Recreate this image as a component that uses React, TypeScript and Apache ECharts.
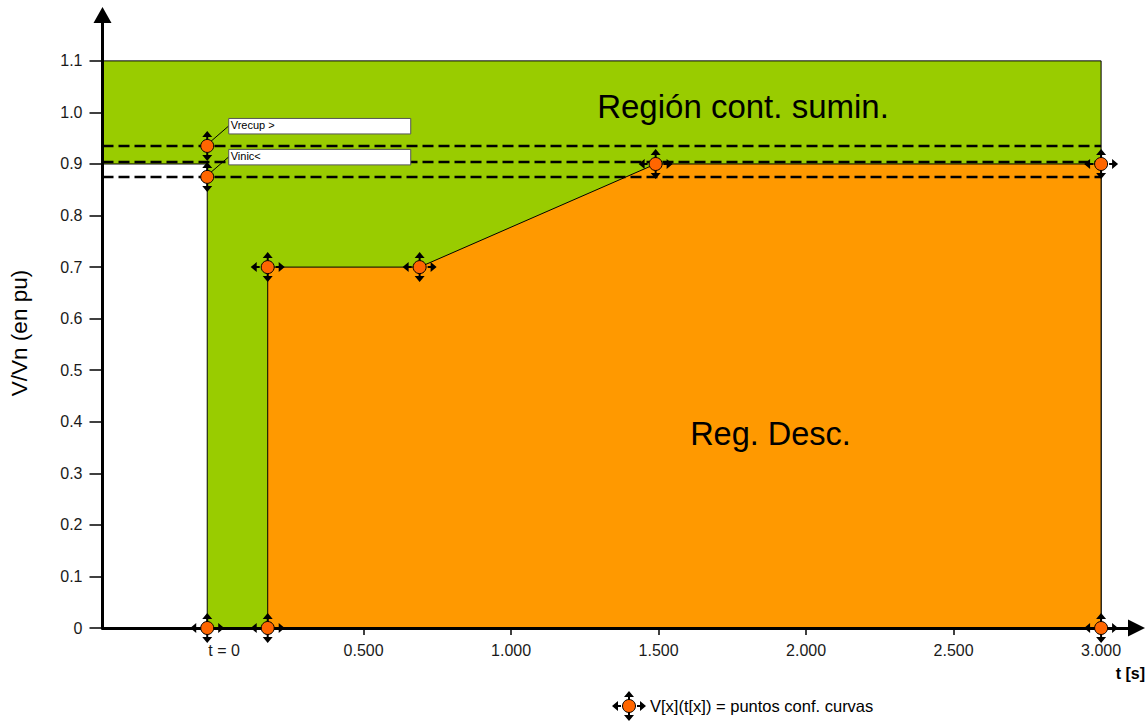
import React, { useEffect, useRef } from "react";
import * as echarts from "echarts";

// Axis extents and ticks
const X_MIN = -0.385;
const X_MAX = 3.12;
const Y_MIN = 0;
const Y_MAX = 1.189;
const X_TICKS = [0.5, 1.0, 1.5, 2.0, 2.5, 3.0];
const X_LABELS = [0, 0.5, 1.0, 1.5, 2.0, 2.5, 3.0];
const Y_TICKS = [0, 0.1, 0.2, 0.3, 0.4, 0.5, 0.6, 0.7, 0.8, 0.9, 1.0, 1.1];

// Regions
const T0 = -0.03;
const GREEN_T = [X_MIN, 3.0, 3.0, T0, T0, X_MIN];
const GREEN_V = [1.1, 1.1, 0, 0, 0.9, 0.9];
const ORANGE_T = [0.175, 0.175, 0.69, 1.49, 3.0, 3.0];
const ORANGE_V = [0, 0.7, 0.7, 0.9, 0.9, 0];

// Configuration points (four-way markers)
const POINT_T = [T0, 0.175, 0.175, 0.69, 1.49, 3.0, 3.0];
const POINT_V = [0, 0, 0.7, 0.7, 0.9, 0.9, 0];

// Voltage limits (vertical-only markers)
const LIMIT_NAMES = ["Vrecup >", "Vinic<"];
const LIMIT_T = [T0, T0];
const LIMIT_V = [0.935, 0.875];

// Dashed reference levels
const DASH_V = [0.935, 0.904, 0.875];
const DASH_END_T = 3.0;

const REGION_TOP = "Región cont. sumin.";
const REGION_BOTTOM = "Reg. Desc.";
const Y_TITLE = "V/Vn (en pu)";
const X_TITLE = "t [s]";
const LEGEND_TEXT = "V[x](t[x]) = puntos conf. curvas";

const FONT = "'Liberation Sans', Arial, Helvetica, sans-serif";

const UP = "M18 3 L23 9 L19 9 L19 12 L17 12 L17 9 L13 9 Z";
const DOWN = "M18 33 L13 27 L17 27 L17 24 L19 24 L19 27 L23 27 Z";
const LEFT = "M1 18 L7 13 L7 17 L10 17 L10 19 L7 19 L7 23 Z";
const RIGHT = "M35 18 L29 23 L29 19 L26 19 L26 17 L29 17 L29 13 Z";
const ARROW4 = "path://" + UP + " " + DOWN + " " + LEFT + " " + RIGHT;
const ARROW2 = "path://" + UP + " " + DOWN;

function arrowPolys(cx: number, cy: number) {
  const shapes = [
    [[18, 3], [23, 9], [19, 9], [19, 12], [17, 12], [17, 9], [13, 9]],
    [[18, 33], [13, 27], [17, 27], [17, 24], [19, 24], [19, 27], [23, 27]],
    [[1, 18], [7, 13], [7, 17], [10, 17], [10, 19], [7, 19], [7, 23]],
    [[35, 18], [29, 23], [29, 19], [26, 19], [26, 17], [29, 17], [29, 13]],
  ];
  return shapes.map((s) => ({
    type: "polygon",
    shape: { points: s.map((p) => [p[0] - 18 + cx, p[1] - 18 + cy]) },
    style: { fill: "#000" },
  }));
}

export default function App() {
  const ref = useRef<HTMLDivElement>(null);
  useEffect(() => {
    if (!ref.current) return;
    const chart = echarts.init(ref.current, null, { renderer: "svg" });

    const polySeries = (ts: number[], vs: number[], fill: string, z: number) => ({
      type: "custom",
      z,
      silent: true,
      clip: false,
      data: [[1, 0.5]],
      renderItem: (_p: any, api: any) => ({
        type: "polygon",
        shape: { points: ts.map((t, i) => api.coord([t, vs[i]])) },
        style: { fill, stroke: "#000", lineWidth: 1 },
      }),
    });

    const dashSeries = DASH_V.map((v) => ({
      type: "line",
      z: 3,
      silent: true,
      symbol: "none",
      data: [
        [X_MIN, v],
        [DASH_END_T, v],
      ],
      lineStyle: { color: "#000", width: 2.5, type: [11, 5] },
    }));

    const allPts = POINT_T.map((t, i) => [t, POINT_V[i]]).concat(
      LIMIT_T.map((t, i) => [t, LIMIT_V[i]])
    );

    const option: any = {
      animation: false,
      backgroundColor: "#fff",
      textStyle: { fontFamily: FONT },
      grid: { left: 102.5, right: 9.5, top: 15, bottom: 94, containLabel: false },
      xAxis: {
        type: "value",
        min: X_MIN,
        max: X_MAX,
        z: 4,
        splitLine: { show: false },
        axisLine: {
          onZero: false,
          lineStyle: { color: "#000", width: 3 },
          symbol: ["none", "triangle"],
          symbolSize: [17, 17],
        },
        axisTick: {
          length: 7,
          customValues: X_TICKS,
          lineStyle: { color: "#000", width: 1.5 },
        },
        axisLabel: {
          customValues: X_LABELS,
          margin: 14.5,
          fontSize: 16,
          color: "#1a1a1a",
          fontFamily: FONT,
          formatter: (v: number) => (Math.abs(v) < 1e-9 ? "{z|t = 0}" : v.toFixed(3)),
          rich: { z: { fontSize: 16, color: "#1a1a1a", fontFamily: FONT, padding: [0, 0, 0, 16] } },
        },
      },
      yAxis: {
        type: "value",
        min: Y_MIN,
        max: Y_MAX,
        z: 4,
        splitLine: { show: false },
        axisLine: {
          onZero: false,
          lineStyle: { color: "#000", width: 3 },
          symbol: ["none", "triangle"],
          symbolSize: [18, 16],
        },
        axisTick: {
          length: 13,
          customValues: Y_TICKS,
          lineStyle: { color: "#000", width: 1.5 },
        },
        axisLabel: {
          customValues: Y_TICKS,
          margin: 20,
          fontSize: 16,
          color: "#1a1a1a",
          fontFamily: FONT,
          formatter: (v: number) => (Math.abs(v) < 1e-9 ? "0" : v.toFixed(1)),
        },
      },
      series: [
        polySeries(GREEN_T, GREEN_V, "#99CC00", 1),
        polySeries(ORANGE_T, ORANGE_V, "#FF9900", 2),
        ...dashSeries,
        {
          type: "custom",
          z: 4,
          silent: true,
          clip: false,
          data: LIMIT_T.map((t, i) => [t, LIMIT_V[i]]),
          renderItem: (params: any, api: any) => {
            const p = api.coord([api.value(0), api.value(1)]);
            const name = LIMIT_NAMES[params.dataIndex];
            return {
              type: "group",
              children: [
                {
                  type: "line",
                  shape: { x1: p[0] + 3, y1: p[1] - 4, x2: p[0] + 21.5, y2: p[1] - 20 },
                  style: { stroke: "#000", lineWidth: 1 },
                },
                {
                  type: "rect",
                  shape: { x: p[0] + 21.5, y: p[1] - 27.5, width: 182, height: 15.5 },
                  style: { fill: "#fff", stroke: "#555", lineWidth: 1 },
                },
                {
                  type: "text",
                  x: p[0] + 23.5,
                  y: p[1] - 26.5,
                  style: {
                    text: name,
                    fill: "#000",
                    font: "11px " + FONT,
                    verticalAlign: "top",
                    align: "left",
                  },
                },
              ],
            };
          },
        },
        {
          type: "scatter",
          z: 5,
          silent: true,
          symbol: ARROW4,
          symbolSize: [34, 30],
          itemStyle: { color: "#000", opacity: 1 },
          data: POINT_T.map((t, i) => [t, POINT_V[i]]),
        },
        {
          type: "scatter",
          z: 5,
          silent: true,
          symbol: ARROW2,
          symbolSize: [10, 30],
          itemStyle: { color: "#000", opacity: 1 },
          data: LIMIT_T.map((t, i) => [t, LIMIT_V[i]]),
        },
        {
          type: "scatter",
          z: 6,
          silent: true,
          symbol: "circle",
          symbolSize: 13,
          itemStyle: { color: "#FF6600", borderColor: "#000", borderWidth: 1, opacity: 1 },
          data: allPts,
        },
      ],
      graphic: [
        {
          type: "text",
          x: 19,
          y: 333,
          rotation: Math.PI / 2,
          style: {
            text: Y_TITLE,
            font: "22.5px " + FONT,
            fill: "#000",
            align: "center",
            verticalAlign: "middle",
          },
        },
        {
          type: "text",
          x: 743,
          y: 106,
          z: 10,
          style: {
            text: REGION_TOP,
            font: "33px " + FONT,
            fill: "#000",
            align: "center",
            verticalAlign: "middle",
          },
        },
        {
          type: "text",
          x: 770.5,
          y: 434,
          z: 10,
          style: {
            text: REGION_BOTTOM,
            font: "32.5px " + FONT,
            fill: "#000",
            align: "center",
            verticalAlign: "middle",
          },
        },
        {
          type: "text",
          x: 1145,
          y: 673,
          style: {
            text: X_TITLE,
            font: "bold 16px " + FONT,
            fill: "#000",
            align: "right",
            verticalAlign: "middle",
          },
        },
        {
          type: "group",
          children: [
            ...arrowPolys(629, 706),
            {
              type: "circle",
              shape: { cx: 629, cy: 706, r: 6.5 },
              style: { fill: "#FF6600", stroke: "#000", lineWidth: 1 },
            },
            {
              type: "text",
              x: 650,
              y: 706,
              style: {
                text: LEGEND_TEXT,
                font: "16.5px " + FONT,
                fill: "#000",
                align: "left",
                verticalAlign: "middle",
              },
            },
          ],
        },
      ],
    };

    chart.setOption(option);
    return () => chart.dispose();
  }, []);

  return (
    <div
      ref={ref}
      style={{ position: "absolute", left: 0, top: 0, width: 1146, height: 722, background: "#fff" }}
    />
  );
}
